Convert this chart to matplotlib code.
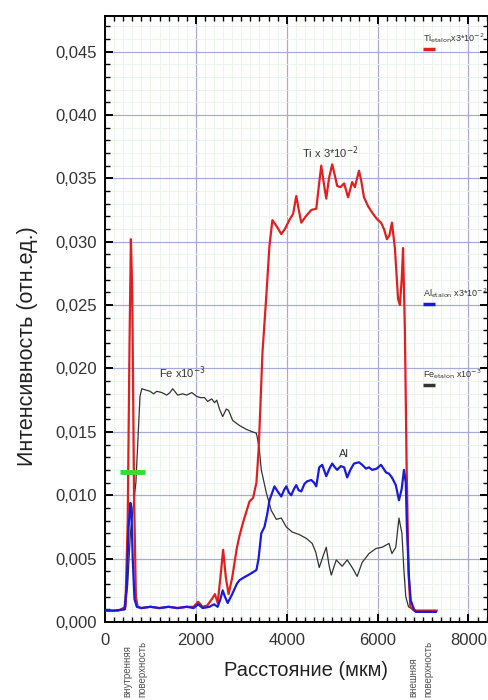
import matplotlib
matplotlib.use("Agg")
import matplotlib.pyplot as plt
from matplotlib.ticker import MultipleLocator, FuncFormatter

plt.rcParams["font.family"] = ["Liberation Sans", "DejaVu Sans"]

# Ti x 3*10^-2 (red)
ti_x = [0, 300, 450, 500, 540, 570, 600, 640, 680, 720, 800, 1000, 1200, 1400, 1600, 1800,
        1950, 2050, 2150, 2250, 2350, 2420, 2480, 2540, 2600, 2660, 2720, 2800, 2900, 2960,
        3050, 3180, 3260, 3333, 3380, 3420, 3465, 3550, 3618, 3684, 3780, 3880, 3960, 4057,
        4140, 4210, 4260, 4320, 4420, 4540, 4650, 4710, 4760, 4820, 4870, 4930, 5000, 5060,
        5110, 5180, 5263, 5350, 5440, 5500, 5590, 5640, 5700, 5790, 5880, 5980, 6075, 6140,
        6205, 6260, 6315, 6380, 6450, 6490, 6530, 6560, 6600, 6640, 6680, 6720, 6800, 7000, 7300]
ti_y = [0.0009, 0.0009, 0.0012, 0.0080, 0.0220, 0.0302, 0.0260, 0.0100, 0.0020, 0.0012,
        0.0011, 0.0012, 0.0011, 0.0012, 0.0011, 0.0012, 0.0012, 0.0016, 0.0012, 0.0013,
        0.0018, 0.0022, 0.0015, 0.0035, 0.0057, 0.0035, 0.0022, 0.0035, 0.0058, 0.0068,
        0.0080, 0.0095, 0.0098, 0.0110, 0.0135, 0.0170, 0.0212, 0.0257, 0.0296, 0.0317,
        0.0312, 0.0306, 0.0310, 0.0317, 0.0322, 0.0336, 0.0326, 0.0315, 0.0320, 0.0325,
        0.0326, 0.0345, 0.0360, 0.0345, 0.0334, 0.0350, 0.0361, 0.0352, 0.0344, 0.0343,
        0.0346, 0.0335, 0.0347, 0.0343, 0.0356, 0.0348, 0.0335, 0.0328, 0.0323, 0.0318,
        0.0315, 0.0310, 0.0302, 0.0305, 0.0315, 0.0295, 0.0255, 0.0250, 0.0270, 0.0295,
        0.0230, 0.0120, 0.0040, 0.0012, 0.0009, 0.0009, 0.0009]

# Al x 3*10^-2 (blue)
al_x = [0, 200, 430, 480, 520, 560, 580, 610, 650, 700, 800, 1000, 1200, 1400, 1600, 1800,
        1950, 2050, 2150, 2300, 2400, 2480, 2540, 2590, 2640, 2700, 2800, 2900, 2960, 3050,
        3150, 3245, 3333, 3380, 3440, 3510, 3570, 3620, 3680, 3730, 3800, 3880, 3940, 3990,
        4050, 4100, 4160, 4210, 4260, 4320, 4390, 4450, 4540, 4600, 4650, 4715, 4780, 4830,
        4870, 4940, 5000, 5060, 5110, 5190, 5263, 5330, 5400, 5480, 5590, 5660, 5745, 5810,
        5880, 5980, 6075, 6130, 6185, 6250, 6315, 6400, 6470, 6530, 6580, 6620, 6645, 6690,
        6730, 6800, 6840, 7000, 7280]
al_y = [0.0009, 0.0009, 0.0010, 0.0030, 0.0075, 0.0094, 0.0090, 0.0050, 0.0018, 0.0012,
        0.0011, 0.0012, 0.0011, 0.0012, 0.0011, 0.0012, 0.0011, 0.0014, 0.0011, 0.0012,
        0.0014, 0.0012, 0.0018, 0.0025, 0.0020, 0.0015, 0.0022, 0.0030, 0.0033, 0.0035,
        0.0037, 0.0039, 0.0041, 0.0050, 0.0070, 0.0075, 0.0085, 0.0096, 0.0102, 0.0107,
        0.0103, 0.0099, 0.0104, 0.0107, 0.0102, 0.0100, 0.0105, 0.0108, 0.0104, 0.0103,
        0.0109, 0.0111, 0.0112, 0.0110, 0.0107, 0.0122, 0.0124, 0.0119, 0.0115, 0.0121,
        0.0125, 0.0122, 0.0120, 0.0123, 0.0122, 0.0114, 0.0120, 0.0125, 0.0126, 0.0124,
        0.0121, 0.0122, 0.0120, 0.0121, 0.0124, 0.0121, 0.0118, 0.0117, 0.0114, 0.0108,
        0.0096, 0.0105, 0.0120, 0.0110, 0.0075, 0.0035, 0.0017, 0.0010, 0.0008, 0.0008, 0.0008]

# Fe x 10^-3 (black)
fe_x = [0, 300, 450, 500, 560, 620, 680, 720, 770, 810, 900, 990, 1070, 1140, 1250, 1360,
        1430, 1490, 1600, 1710, 1800, 1910, 2020, 2100, 2190, 2260, 2350, 2410, 2460, 2520,
        2590, 2670, 2720, 2810, 2960, 3110, 3245, 3330, 3355, 3400, 3440, 3550, 3660, 3770,
        3880, 3990, 4120, 4275, 4430, 4560, 4640, 4715, 4800, 4870, 4930, 4980, 5090, 5220,
        5330, 5440, 5550, 5660, 5810, 5965, 6100, 6250, 6315, 6400, 6470, 6535, 6580, 6620,
        6680, 6730, 6800, 7000, 7250]
fe_y = [0.0009, 0.0009, 0.0010, 0.0030, 0.0070, 0.0090, 0.0110, 0.0140, 0.0178, 0.0184,
        0.0183, 0.0182, 0.0180, 0.0182, 0.0181, 0.0179, 0.0181, 0.0184, 0.0179, 0.0180,
        0.0179, 0.0181, 0.0178, 0.0177, 0.0177, 0.0174, 0.0176, 0.0173, 0.0175, 0.0168,
        0.0162, 0.0168, 0.0167, 0.0159, 0.0155, 0.0152, 0.0150, 0.0149, 0.0145, 0.0135,
        0.0120, 0.0102, 0.0088, 0.0081, 0.0082, 0.0075, 0.0071, 0.0069, 0.0066, 0.0062,
        0.0055, 0.0043, 0.0052, 0.0059, 0.0045, 0.0037, 0.0049, 0.0044, 0.0049, 0.0043,
        0.0036, 0.0047, 0.0054, 0.0058, 0.0059, 0.0062, 0.0054, 0.0059, 0.0082, 0.0070,
        0.0040, 0.0020, 0.0012, 0.0011, 0.0009, 0.0009, 0.0009]

# green marker near inner surface and etalon markers
green_x = [330, 880]
green_y = [0.0118, 0.0118]
etalon_x = [7000, 7260]
etalon_y = {"Ti": 0.0452, "Al": 0.0251, "Fe": 0.0187}

colors = {"Ti": "#e02020", "Al": "#1a1adc", "Fe": "#333333", "green": "#33dd33"}

fig = plt.figure(figsize=(4.89, 7.0), dpi=100)
ax = fig.add_axes([0.2147, 0.1114, 0.7833, 0.8657])

ax.plot(fe_x, fe_y, color=colors["Fe"], lw=0.9, zorder=3)
ax.plot(ti_x, ti_y, color=colors["Ti"], lw=1.6, zorder=4)
ax.plot(al_x, al_y, color=colors["Al"], lw=1.6, zorder=5)
ax.plot(green_x, green_y, color=colors["green"], lw=3.5, solid_capstyle="butt", zorder=6)

for key in ["Ti", "Al", "Fe"]:
    ax.plot(etalon_x, [etalon_y[key]] * 2, color=colors[key], lw=2.5,
            solid_capstyle="butt", zorder=6)

# etalon labels run off the right edge, as in the original figure
ax.text(etalon_x[0], etalon_y["Ti"] + 0.0006, r"Ti$_{\rm etalon}$x3*10$^{-2}$",
        fontsize=6.5, color="#333333", clip_on=False)
ax.text(etalon_x[0], etalon_y["Al"] + 0.0006, r"Al$_{\rm etalon}$ x3*10$^{-2}$",
        fontsize=6.5, color="#333333", clip_on=False)
ax.text(etalon_x[0], etalon_y["Fe"] + 0.0006, r"Fe$_{\rm etalon}$ x10$^{-3}$",
        fontsize=6.5, color="#333333", clip_on=False)

ax.text(4960, 0.0366, r"Ti x 3*10$^{-2}$", fontsize=8, color="#333333", ha="center")
ax.text(1710, 0.0193, r"Fe x10$^{-3}$", fontsize=8, color="#333333", ha="center")
ax.text(5260, 0.0130, "Al", fontsize=8, color="#333333", ha="center")

# surface labels below the x axis (x in data, y in axes fraction)
tr = ax.get_xaxis_transform()
surface_labels = [(485, "внутренняя"), (815, "поверхность"),
                  (6784, "внешняя"), (7115, "поверхность")]
for xp, txt in surface_labels:
    ax.text(xp, -0.124, txt, transform=tr, rotation=90, fontsize=7,
            color="#555555", ha="center", va="bottom", clip_on=False)

ax.set_xlim(0, 8430)
ax.set_ylim(0, 0.0478)
ax.xaxis.set_major_locator(MultipleLocator(2000))
ax.xaxis.set_minor_locator(MultipleLocator(200))
ax.yaxis.set_major_locator(MultipleLocator(0.005))
ax.yaxis.set_minor_locator(MultipleLocator(0.001))
ax.yaxis.set_major_formatter(FuncFormatter(lambda v, p: f"{v:.3f}".replace(".", ",")))

ax.grid(which="minor", color="#e8f4e8", lw=0.6, zorder=0)
ax.grid(which="major", color="#a9a9d6", lw=0.9, zorder=1)
ax.set_axisbelow(True)

ax.tick_params(which="both", direction="in", top=True, right=True,
               labelsize=12, labelcolor="#333333")
ax.tick_params(which="major", length=6, width=1.4)
ax.tick_params(which="minor", length=3.5, width=1.0)
ax.tick_params(axis="x", which="major", pad=8)
ax.tick_params(axis="y", which="major", pad=6)
for sp in ax.spines.values():
    sp.set_linewidth(1.4)

ax.set_xlabel("Расстояние (мкм)", fontsize=14.5, color="#222222")
ax.set_ylabel("Интенсивность (отн.ед.)", fontsize=15.5, color="#222222")
ax.xaxis.set_label_coords(0.525, -0.064)
ax.yaxis.set_label_coords(-0.175, 0.455)

fig.savefig("out.png", dpi=100)
